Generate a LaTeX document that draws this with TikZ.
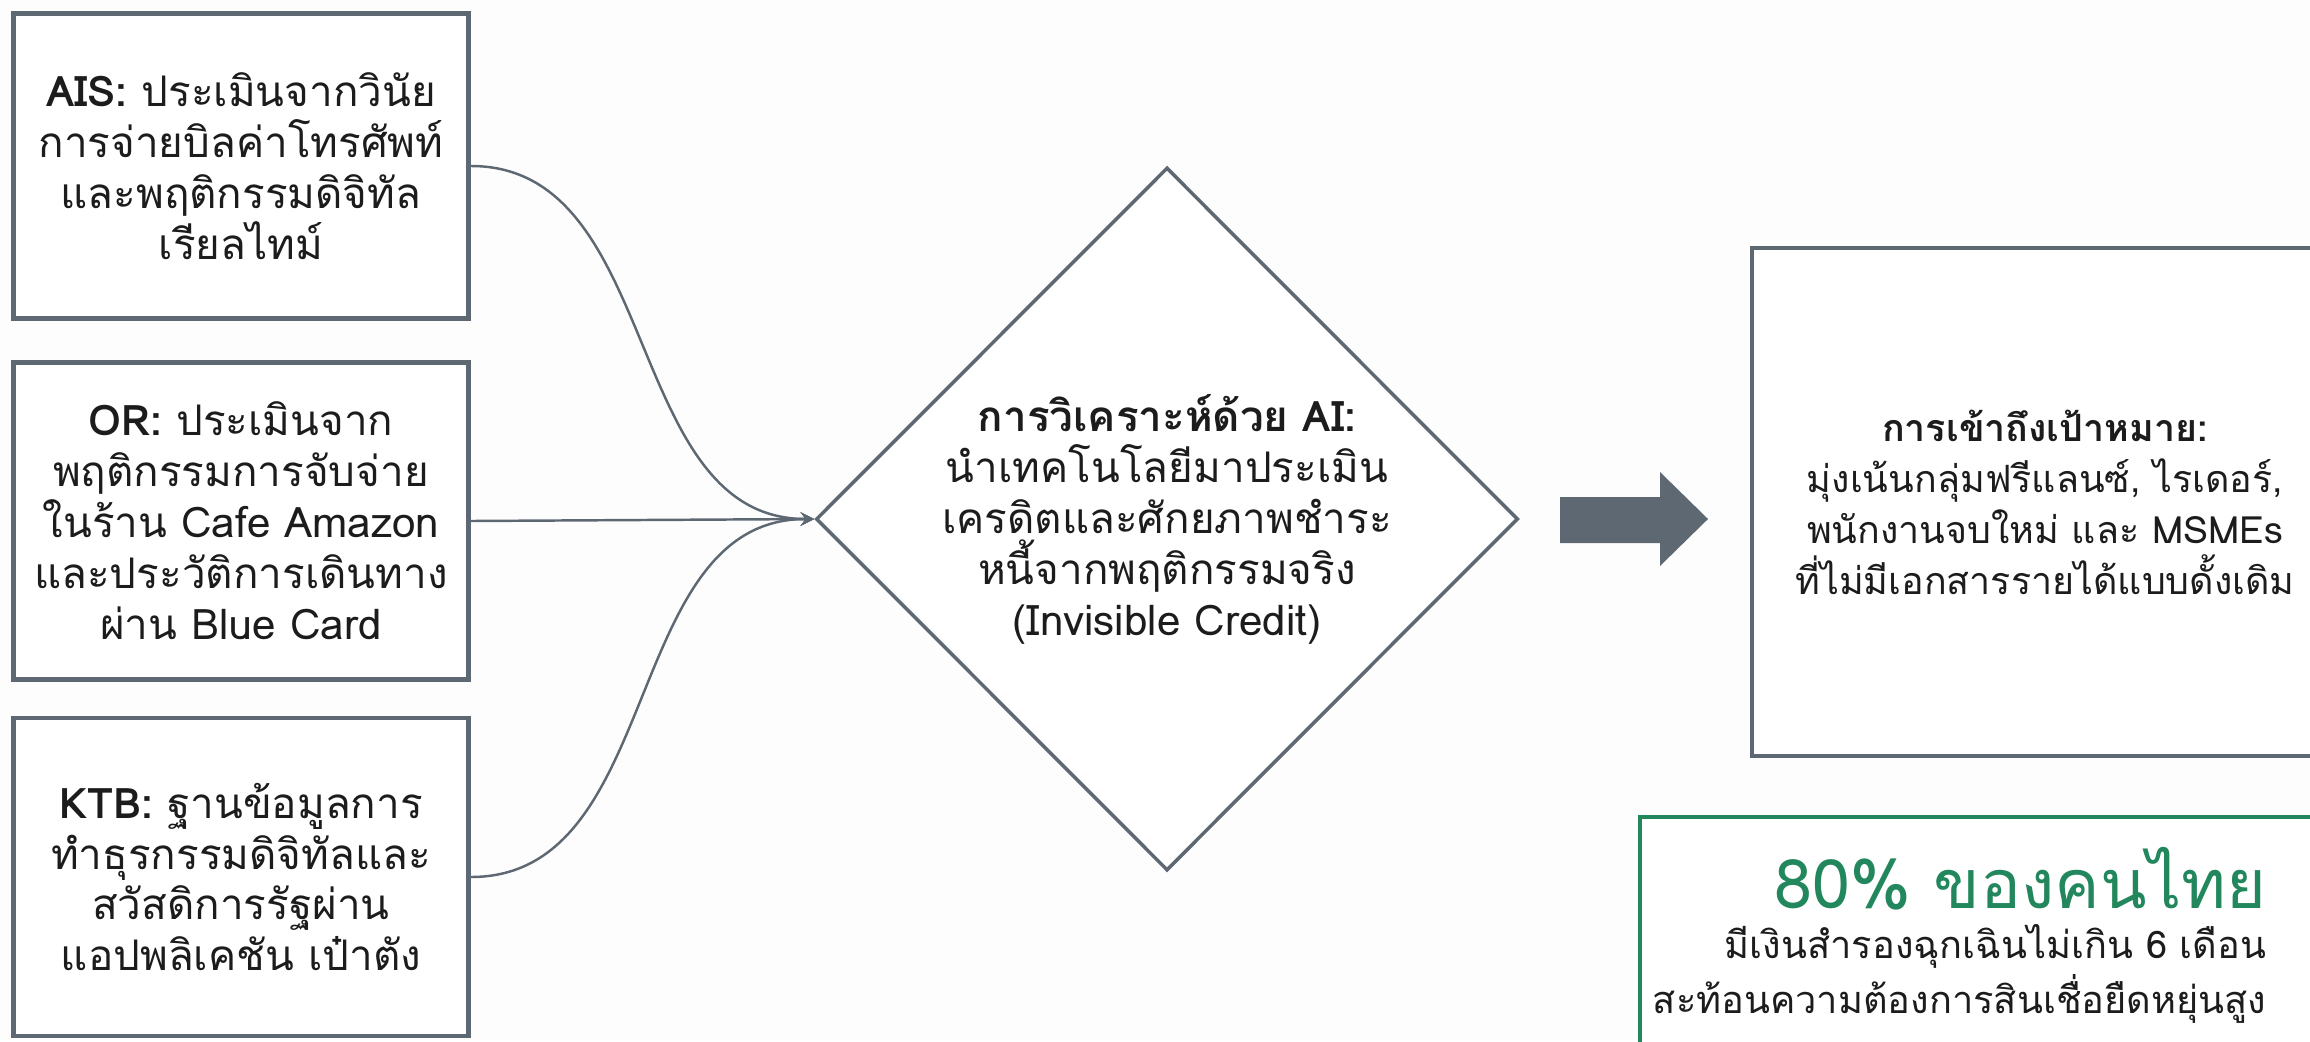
\documentclass[tikz,border=0pt]{standalone}
\usepackage{fontspec}
\setmainfont{Loma}[Script=Thai]
\usepackage{tikz}
\usetikzlibrary{shapes}
\usetikzlibrary{arrows}
\definecolor{slategrey}{HTML}{5E6873}
\definecolor{inkblack}{HTML}{1C1C1C}
\definecolor{thaigreen}{HTML}{22875C}
\definecolor{paper}{HTML}{FDFDFD}
\tikzset{
  srcbox/.style={draw=slategrey, line width=1.4pt, fill=white, minimum width=4.55cm,
    align=center, text=inkblack, font=\fontsize{12}{14.5}\selectfont},
  flowline/.style={draw=slategrey, line width=0.7pt, ->, >=stealth},
}
\begin{document}
\begin{tikzpicture}

           \useasboundingbox (0,0) rectangle (23.10,10.41);
           \clip (0,0) rectangle (23.10,10.41);
           \fill[paper] (0,0) rectangle (23.10,10.41);

           % Data sources
           \node[srcbox, minimum height=3.05cm] (ais) at (2.41,8.75)
           {\textbf{AIS:} ประเมินจากวินัย\\การจ่ายบิลค่าโทรศัพท์\\และพฤติกรรมดิจิทัล\\เรียลไทม์};
           \node[srcbox, minimum height=3.17cm] (or) at (2.41,5.20)
           {\textbf{OR:} ประเมินจาก\\พฤติกรรมการจับจ่าย\\ในร้าน Cafe Amazon\\และประวัติการเดินทาง\\ผ่าน Blue Card};
           \node[srcbox, minimum height=3.18cm] (ktb) at (2.41,1.64)
           {\textbf{KTB:} ฐานข้อมูลการ\\ทำธุรกรรมดิจิทัลและ\\สวัสดิการรัฐผ่าน\\แอปพลิเคชัน เป๋าตัง};

           % AI analysis
           \node[diamond, draw=slategrey, line width=1pt, fill=white, inner sep=0pt,
                 minimum width=7.02cm, minimum height=7.03cm, align=center, text=inkblack,
                 font=\fontsize{12}{14.5}\selectfont] (ai) at (11.67,5.22)
           {\textbf{การวิเคราะห์ด้วย AI:}\\นำเทคโนโลยีมาประเมิน\\เครดิตและศักยภาพชำระ\\หนี้จากพฤติกรรมจริง\\(Invisible Credit)};

           % Links into the diamond
           \draw[flowline] (ais.east) to[out=0,in=180] (ai.west);
           \draw[flowline] (or.east) -- (ai.west);
           \draw[flowline] (ktb.east) to[out=0,in=180] (ai.west);

           % Block arrow
           \fill[slategrey] (15.60,4.98)--(16.60,4.98)--(16.60,4.75)--(17.08,5.22)
           --(16.60,5.69)--(16.60,5.44)--(15.60,5.44)--cycle;

           % Target group (box runs past the right edge)
           \draw[slategrey, line width=1.2pt, fill=white] (17.52,2.85) rectangle (24.90,7.93);
           \node[align=center, text=inkblack, font=\fontsize{10.7}{14.5}\selectfont] (goal) at (20.45,5.39)
           {\textbf{การเข้าถึงเป้าหมาย:}\\มุ่งเน้นกลุ่มฟรีแลนซ์, ไรเดอร์,\\พนักงานจบใหม่ และ MSMEs\\ที่ไม่มีเอกสารรายได้แบบดั้งเดิม};

           % Statistic
           \draw[thaigreen, line width=0.9pt, fill=white] (16.40,-0.50) rectangle (23.60,2.24);
           \node[anchor=east, text=thaigreen, inner sep=0pt, font=\fontsize{19.4}{22}\selectfont] (stat) at (22.67,1.62)
           {80\% ของคนไทย};
           \node[anchor=north east, align=right, text=inkblack, inner sep=0pt,
                 font=\fontsize{10.8}{15.6}\selectfont] (statnote) at (22.67,1.17)
           {มีเงินสำรองฉุกเฉินไม่เกิน 6 เดือน\\สะท้อนความต้องการสินเชื่อยืดหยุ่นสูง};

\end{tikzpicture}
\end{document}
